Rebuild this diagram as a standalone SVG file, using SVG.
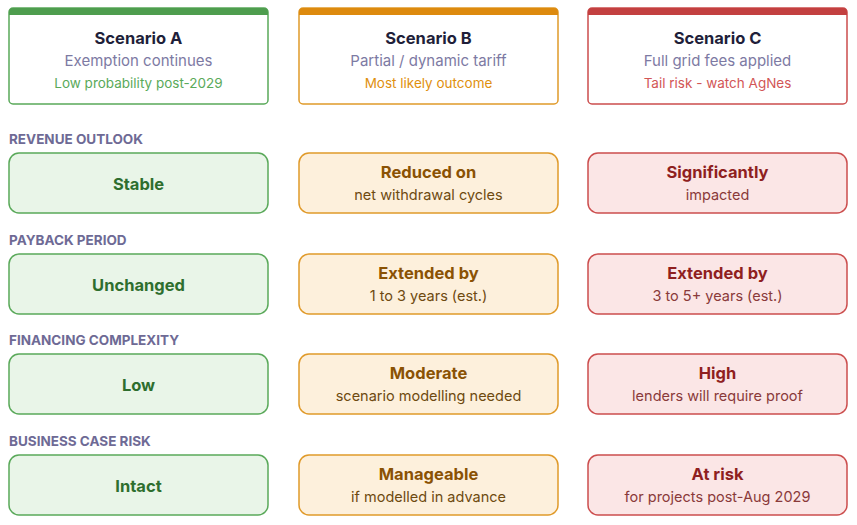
<svg xmlns="http://www.w3.org/2000/svg" width="857" height="525" viewBox="0 0 857 525">
<style>
text{font-family:Inter,"Liberation Sans",sans-serif;text-anchor:middle}
.t{font-size:16.5px;font-weight:700;fill:#1f1f3a}
.s{font-size:15px;fill:#7d7aa3}
.n{font-size:13.5px}
.lab{font-size:13.5px;font-weight:700;fill:#6e6a95;text-anchor:start}
.b{font-size:16.5px;font-weight:700}
.d{font-size:14.5px}
.hg{fill:#fff;stroke:#5aa95a;stroke-width:1.5}
.ho{fill:#fff;stroke:#e09a2a;stroke-width:1.5}
.hr{fill:#fff;stroke:#cc4e4e;stroke-width:1.5}
.g{fill:#e9f5e8;stroke:#5aa95a;stroke-width:1.5}
.o{fill:#fdf0dc;stroke:#e09a2a;stroke-width:1.5}
.r{fill:#fbe6e6;stroke:#cc4e4e;stroke-width:1.5}
.gt{fill:#2e6e2e}.ot{fill:#8a5204}.rt{fill:#8f1f1f}
.gd{fill:#3e7d3e}.od{fill:#6e4a10}.rd{fill:#8a3a3a}
</style>
<g id="headerA"><rect class="hg" x="9" y="8" width="259" height="96" rx="4"/><path d="M9 15V12a4 4 0 0 1 4-4h251a4 4 0 0 1 4 4v3z" fill="#4e9d4e"/>
<text class="t" x="138.5" y="44">Scenario A</text><text class="s" x="138.5" y="66">Exemption continues</text><text class="n" x="138.5" y="88" fill="#5aaa5a">Low probability post-2029</text></g>
<g id="headerB"><rect class="ho" x="299" y="8" width="259" height="96" rx="4"/><path d="M299 15V12a4 4 0 0 1 4-4h251a4 4 0 0 1 4 4v3z" fill="#dd8a0e"/>
<text class="t" x="428.5" y="44">Scenario B</text><text class="s" x="428.5" y="66">Partial / dynamic tariff</text><text class="n" x="428.5" y="88" fill="#e0900e">Most likely outcome</text></g>
<g id="headerC"><rect class="hr" x="588" y="8" width="259" height="96" rx="4"/><path d="M588 15V12a4 4 0 0 1 4-4h251a4 4 0 0 1 4 4v3z" fill="#c34040"/>
<text class="t" x="717.5" y="44">Scenario C</text><text class="s" x="717.5" y="66">Full grid fees applied</text><text class="n" x="717.5" y="88" fill="#d25656">Tail risk - watch AgNes</text></g>
<g id="labels">
<text class="lab" x="9" y="144">REVENUE OUTLOOK</text>
<text class="lab" x="9" y="245">PAYBACK PERIOD</text>
<text class="lab" x="9" y="345">FINANCING COMPLEXITY</text>
<text class="lab" x="9" y="446">BUSINESS CASE RISK</text>
</g>
<g id="r1a"><rect class="g" x="9" y="153" width="259" height="60" rx="10"/><text class="b gt" x="138.5" y="190">Stable</text></g>
<g id="r1b"><rect class="o" x="299" y="153" width="259" height="60" rx="10"/><text class="b ot" x="428.5" y="178">Reduced on</text><text class="d od" x="428.5" y="200">net withdrawal cycles</text></g>
<g id="r1c"><rect class="r" x="588" y="153" width="259" height="60" rx="10"/><text class="b rt" x="717.5" y="178">Significantly</text><text class="d rd" x="717.5" y="200">impacted</text></g>
<g id="r2a"><rect class="g" x="9" y="254" width="259" height="60" rx="10"/><text class="b gt" x="138.5" y="291">Unchanged</text></g>
<g id="r2b"><rect class="o" x="299" y="254" width="259" height="60" rx="10"/><text class="b ot" x="428.5" y="279">Extended by</text><text class="d od" x="428.5" y="301">1 to 3 years (est.)</text></g>
<g id="r2c"><rect class="r" x="588" y="254" width="259" height="60" rx="10"/><text class="b rt" x="717.5" y="279">Extended by</text><text class="d rd" x="717.5" y="301">3 to 5+ years (est.)</text></g>
<g id="r3a"><rect class="g" x="9" y="354" width="259" height="60" rx="10"/><text class="b gt" x="138.5" y="391">Low</text></g>
<g id="r3b"><rect class="o" x="299" y="354" width="259" height="60" rx="10"/><text class="b ot" x="428.5" y="379">Moderate</text><text class="d od" x="428.5" y="401">scenario modelling needed</text></g>
<g id="r3c"><rect class="r" x="588" y="354" width="259" height="60" rx="10"/><text class="b rt" x="717.5" y="379">High</text><text class="d rd" x="717.5" y="401">lenders will require proof</text></g>
<g id="r4a"><rect class="g" x="9" y="455" width="259" height="60" rx="10"/><text class="b gt" x="138.5" y="492">Intact</text></g>
<g id="r4b"><rect class="o" x="299" y="455" width="259" height="60" rx="10"/><text class="b ot" x="428.5" y="480">Manageable</text><text class="d od" x="428.5" y="502">if modelled in advance</text></g>
<g id="r4c"><rect class="r" x="588" y="455" width="259" height="60" rx="10"/><text class="b rt" x="717.5" y="480">At risk</text><text class="d rd" x="717.5" y="502">for projects post-Aug 2029</text></g>
<g id="connectors"/>
</svg>
